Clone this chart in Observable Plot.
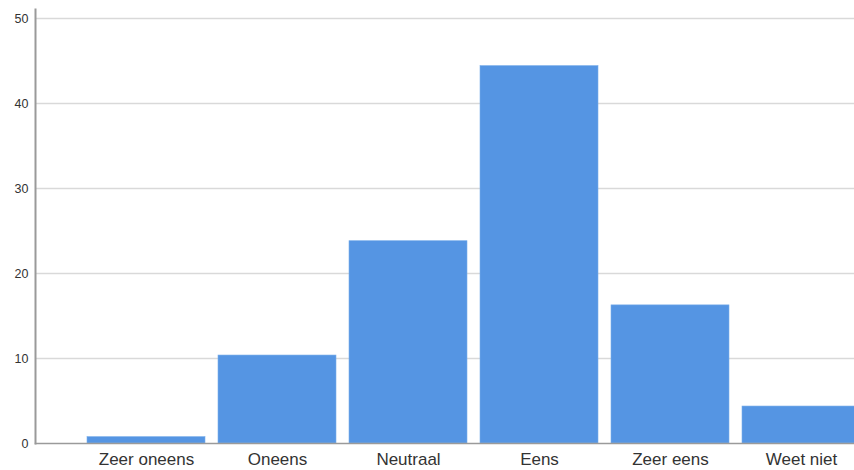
<!DOCTYPE html>
<html>
<head>
<meta charset="utf-8">
<script src="https://cdn.jsdelivr.net/npm/d3@7"></script>
<script src="https://cdn.jsdelivr.net/npm/@observablehq/plot@0.6"></script>
<style>
  html, body { margin: 0; padding: 0; background: #fff; overflow: hidden; }
  svg { display: block; }
</style>
</head>
<body>
<div id="chart"></div>
<script>
const categories = ["Zeer oneens", "Oneens", "Neutraal", "Eens", "Zeer eens", "Weet niet"];
const values = [0.75, 10.35, 23.8, 44.4, 16.25, 4.35];
const yTicks = [0, 10, 20, 30, 40, 50];

const data = categories.map((c, i) => ({category: c, value: values[i]}));

const chart = Plot.plot({
  width: 854,
  height: 470,
  marginLeft: 35,
  marginRight: 0,
  marginTop: 9,
  marginBottom: 27,
  style: {fontFamily: "Liberation Sans, Arial, sans-serif", background: "#fff", overflow: "visible"},
  x: {domain: categories, range: [85, 861], paddingInner: 0.1, paddingOuter: 0},
  y: {domain: [0, 50], range: [443, 18]},
  marks: [
    Plot.ruleY(yTicks.filter(d => d > 0), {stroke: "#d9d9d9", strokeWidth: 1.5}),
    Plot.barY(data, {x: "category", y: "value", fill: "#5595e3", stroke: "#7aaeea", strokeWidth: 0.6}),
    Plot.frame({anchor: "left", stroke: "#9a9a9a", strokeWidth: 2}),
    Plot.frame({anchor: "bottom", stroke: "#9a9a9a", strokeWidth: 1.5}),
    Plot.axisY({ticks: yTicks, tickSize: 0, tickPadding: 7, fontSize: 12.5, color: "#333", label: null, tickFormat: d => d}),
    Plot.axisX({tickSize: 0, tickPadding: 9, fontSize: 17, color: "#333", label: null})
  ]
});
document.getElementById("chart").appendChild(chart);
</script>
</body>
</html>
